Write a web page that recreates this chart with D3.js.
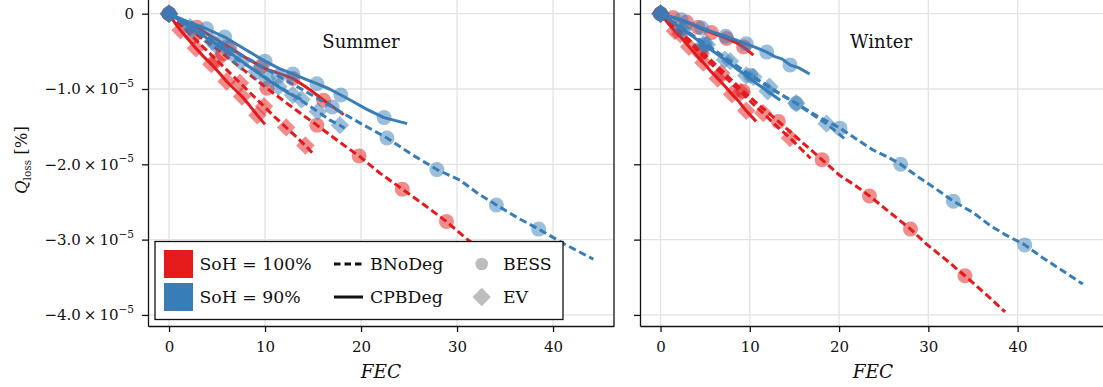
<!DOCTYPE html>
<html>
<head>
<meta charset="utf-8">
<script src="https://cdn.jsdelivr.net/npm/d3@7"></script>
<style>
  html, body { margin: 0; padding: 0; background: #fff; }
  svg { display: block; }
</style>
</head>
<body>
<svg id="chart" width="1103" height="387"></svg>
<script>
// Capacity loss vs full equivalent cycles, Summer / Winter panels.
// Q values are stored in units of 1e-5 %.

const RED = "#e41a1c";   // SoH = 100%
const BLUE = "#377eb8";  // SoH = 90%
const FONT = "DejaVu Serif";

const FEC_TICKS = [0, 10, 20, 30, 40];
const Q_TICKS = [0, -1, -2, -3, -4];
const Q_EXP = "−5";

// ---------------- Summer ----------------
const S_BESS_BNO_100 = [[0,0],[2.5,-0.24],[5.6,-0.53],[8,-0.77],[10.2,-0.99],[12.8,-1.24],[15.4,-1.48],[17.6,-1.69],[19.8,-1.89],[22,-2.12],[24.3,-2.33],[26.6,-2.54],[28.9,-2.76],[31,-2.99],[33.5,-3.22],[35.5,-3.41]];
const S_BESS_BNO_100_M = [[0,0],[5.6,-0.53],[10.2,-0.99],[15.4,-1.48],[19.8,-1.89],[24.3,-2.33],[28.9,-2.76],[33.5,-3.22]];
const S_EV_BNO_100 = [[0,0],[1.2,-0.15],[2.5,-0.31],[3.7,-0.46],[5,-0.62],[6.2,-0.77],[7.4,-0.92],[8.6,-1.07],[9.9,-1.23],[11,-1.37],[12.2,-1.51],[13.2,-1.63],[14.2,-1.75],[15,-1.86]];
const S_EV_BNO_100_M = [[0,0],[2.5,-0.31],[5,-0.62],[7.4,-0.92],[9.9,-1.23],[12.2,-1.51],[14.2,-1.75]];
const S_BESS_CPB_100 = [[0,0],[1.5,-0.1],[2.9,-0.18],[4.5,-0.31],[6.3,-0.45],[8.3,-0.61],[9.6,-0.7],[10.2,-0.74],[11.6,-0.8],[12.9,-0.86],[14,-0.95],[15,-1.04],[16.1,-1.15],[17.2,-1.25],[18.2,-1.34]];
const S_BESS_CPB_100_M = [[0,0],[2.9,-0.18],[6.3,-0.45],[9.6,-0.7],[12.9,-0.86],[16.1,-1.15]];
const S_EV_CPB_100 = [[0,0],[0.6,-0.12],[1.2,-0.22],[2,-0.34],[2.8,-0.46],[3.6,-0.57],[4.4,-0.67],[5.2,-0.78],[6,-0.9],[6.8,-1.0],[7.6,-1.1],[8.4,-1.22],[9.2,-1.35],[10,-1.47]];
const S_EV_CPB_100_M = [[0,0],[1.2,-0.22],[2.8,-0.46],[4.4,-0.67],[6,-0.9],[7.6,-1.1],[9.2,-1.35]];

const S_BESS_BNO_90 = [[0,0],[3,-0.22],[6,-0.44],[8.7,-0.63],[11.4,-0.83],[14.2,-1.03],[17,-1.24],[20,-1.46],[22.7,-1.65],[25.3,-1.87],[27.9,-2.07],[30.3,-2.21],[32.2,-2.39],[34.1,-2.54],[36.3,-2.71],[38.5,-2.86],[41.2,-3.06],[44.2,-3.26]];
const S_BESS_BNO_90_M = [[0,0],[6,-0.44],[11.4,-0.83],[17,-1.24],[22.7,-1.65],[27.9,-2.07],[34.1,-2.54],[38.5,-2.86]];
const S_EV_BNO_90 = [[0,0],[1.5,-0.14],[2.4,-0.21],[3.6,-0.31],[4.9,-0.42],[6.2,-0.53],[7.5,-0.64],[8.8,-0.74],[10.2,-0.86],[11.5,-0.97],[12.9,-1.08],[14.2,-1.19],[15.5,-1.3],[16.7,-1.41],[17.8,-1.48],[18.3,-1.52]];
const S_EV_BNO_90_M = [[0,0],[2.4,-0.21],[4.9,-0.42],[7.5,-0.64],[10.2,-0.86],[12.9,-1.08],[15.5,-1.3],[17.8,-1.48]];
const S_BESS_CPB_90 = [[0,0],[2,-0.11],[3.9,-0.2],[5.8,-0.31],[8,-0.48],[10,-0.63],[11.5,-0.73],[12.9,-0.8],[14.2,-0.87],[15.4,-0.93],[16.7,-1.0],[17.9,-1.08],[19.2,-1.17],[20.6,-1.27],[22.4,-1.38],[23.6,-1.42],[24.8,-1.46]];
const S_BESS_CPB_90_M = [[0,0],[3.9,-0.2],[5.8,-0.31],[10,-0.63],[12.9,-0.8],[15.4,-0.93],[17.9,-1.08],[22.4,-1.38]];
const S_EV_CPB_90 = [[0,0],[1.1,-0.09],[2.2,-0.18],[3.4,-0.28],[4.5,-0.37],[5.7,-0.47],[6.8,-0.56],[8,-0.67],[9.1,-0.77],[10.2,-0.87],[11.4,-0.97],[12.5,-1.06],[13.8,-1.14]];
const S_EV_CPB_90_M = [[0,0],[2.2,-0.18],[4.5,-0.37],[6.8,-0.56],[9.1,-0.77],[11.4,-0.97],[13.8,-1.14]];

// ---------------- Winter ----------------
const W_BESS_BNO_100 = [[0,0],[2.3,-0.25],[4.5,-0.49],[7,-0.77],[9.25,-1.03],[11.2,-1.23],[13.2,-1.43],[15.6,-1.68],[18.1,-1.94],[20.1,-2.15],[21.8,-2.28],[23.4,-2.42],[25.7,-2.64],[28,-2.86],[29.8,-3.06],[32,-3.27],[34.1,-3.48],[36.4,-3.72],[38.6,-3.96]];
const W_BESS_BNO_100_M = [[0,0],[4.5,-0.49],[9.25,-1.03],[13.2,-1.43],[18.1,-1.94],[23.4,-2.42],[28,-2.86],[34.1,-3.48]];
const W_EV_BNO_100 = [[0,0],[1.1,-0.14],[2.2,-0.27],[3.3,-0.39],[4.5,-0.53],[5.6,-0.66],[6.8,-0.79],[7.9,-0.92],[9,-1.04],[10.2,-1.18],[11.5,-1.32],[12.8,-1.47],[14.5,-1.65],[15.6,-1.78],[16.8,-1.92]];
const W_EV_BNO_100_M = [[0,0],[2.2,-0.27],[4.5,-0.53],[6.8,-0.79],[9,-1.04],[11.5,-1.32],[14.5,-1.65]];
const W_BESS_CPB_100 = [[0,0],[1.4,-0.05],[2.9,-0.11],[4.2,-0.18],[5.7,-0.25],[7.4,-0.33],[8.4,-0.38],[9.3,-0.44],[10.4,-0.55]];
const W_BESS_CPB_100_M = [[0,0],[1.4,-0.05],[2.9,-0.11],[4.2,-0.18],[5.7,-0.25],[7.4,-0.33],[9.3,-0.44]];
const W_EV_CPB_100 = [[0,0],[0.8,-0.12],[1.6,-0.23],[2.4,-0.33],[3.2,-0.44],[4,-0.55],[4.8,-0.65],[5.6,-0.76],[6.4,-0.86],[7.2,-0.96],[8,-1.07],[8.8,-1.17],[9.6,-1.29],[10.7,-1.43]];
const W_EV_CPB_100_M = [[0,0],[1.6,-0.23],[3.2,-0.44],[4.8,-0.65],[6.4,-0.86],[8,-1.07],[9.6,-1.29]];

const W_BESS_BNO_90 = [[0,0],[2.5,-0.21],[5,-0.41],[7.6,-0.62],[10.1,-0.82],[12.7,-1.02],[15.2,-1.19],[17.7,-1.37],[20.1,-1.52],[22,-1.67],[23.8,-1.81],[25.4,-1.9],[26.9,-2.0],[29,-2.18],[30.9,-2.33],[32.8,-2.49],[35,-2.64],[37,-2.82],[38.7,-2.94],[40.8,-3.07],[42.8,-3.24],[45,-3.41],[47.3,-3.59]];
const W_BESS_BNO_90_M = [[0,0],[5,-0.41],[10.1,-0.82],[15.2,-1.19],[20.1,-1.52],[26.9,-2.0],[32.8,-2.49],[40.8,-3.07]];
const W_EV_BNO_90 = [[0,0],[1.3,-0.1],[2.6,-0.2],[3.9,-0.31],[5.2,-0.41],[6.5,-0.52],[7.8,-0.63],[9.1,-0.74],[10.4,-0.84],[12.2,-0.97],[13.6,-1.08],[15.2,-1.19],[16.9,-1.33],[18.6,-1.46],[19.6,-1.56],[20.6,-1.66]];
const W_EV_BNO_90_M = [[0,0],[2.6,-0.2],[5.2,-0.41],[7.8,-0.63],[10.4,-0.84],[12.2,-0.97],[15.2,-1.19],[18.6,-1.46]];
const W_BESS_CPB_90 = [[0,0],[1.4,-0.05],[2.3,-0.08],[4,-0.16],[4.6,-0.19],[6,-0.25],[7.3,-0.3],[8.5,-0.35],[9.6,-0.4],[10.7,-0.45],[11.9,-0.51],[12.8,-0.57],[13.6,-0.6],[14.5,-0.68],[15.5,-0.72],[16.7,-0.8]];
const W_BESS_CPB_90_M = [[0,0],[2.3,-0.08],[4.6,-0.19],[7.3,-0.3],[9.6,-0.4],[11.9,-0.51],[14.5,-0.68]];
const W_EV_CPB_90 = [[0,0],[1.2,-0.1],[2.4,-0.2],[3.6,-0.3],[4.8,-0.41],[6,-0.51],[7.2,-0.61],[8.4,-0.72],[9.6,-0.82],[10.8,-0.93],[12,-1.03],[13.4,-1.15]];
const W_EV_CPB_90_M = [[0,0],[2.4,-0.2],[4.8,-0.41],[7.2,-0.61],[9.6,-0.82],[12,-1.03]];

// series tables (draw order: SoH 100 first, then SoH 90 on top)
const SUMMER = [
  { soh: 100, strat: "BNoDeg", app: "BESS", line: S_BESS_BNO_100, marks: S_BESS_BNO_100_M },
  { soh: 100, strat: "BNoDeg", app: "EV",   line: S_EV_BNO_100,   marks: S_EV_BNO_100_M },
  { soh: 100, strat: "CPBDeg", app: "BESS", line: S_BESS_CPB_100, marks: S_BESS_CPB_100_M },
  { soh: 100, strat: "CPBDeg", app: "EV",   line: S_EV_CPB_100,   marks: S_EV_CPB_100_M },
  { soh: 90,  strat: "BNoDeg", app: "BESS", line: S_BESS_BNO_90,  marks: S_BESS_BNO_90_M },
  { soh: 90,  strat: "BNoDeg", app: "EV",   line: S_EV_BNO_90,    marks: S_EV_BNO_90_M },
  { soh: 90,  strat: "CPBDeg", app: "BESS", line: S_BESS_CPB_90,  marks: S_BESS_CPB_90_M },
  { soh: 90,  strat: "CPBDeg", app: "EV",   line: S_EV_CPB_90,    marks: S_EV_CPB_90_M },
];
const WINTER = [
  { soh: 100, strat: "BNoDeg", app: "BESS", line: W_BESS_BNO_100, marks: W_BESS_BNO_100_M },
  { soh: 100, strat: "BNoDeg", app: "EV",   line: W_EV_BNO_100,   marks: W_EV_BNO_100_M },
  { soh: 100, strat: "CPBDeg", app: "BESS", line: W_BESS_CPB_100, marks: W_BESS_CPB_100_M },
  { soh: 100, strat: "CPBDeg", app: "EV",   line: W_EV_CPB_100,   marks: W_EV_CPB_100_M },
  { soh: 90,  strat: "BNoDeg", app: "BESS", line: W_BESS_BNO_90,  marks: W_BESS_BNO_90_M },
  { soh: 90,  strat: "BNoDeg", app: "EV",   line: W_EV_BNO_90,    marks: W_EV_BNO_90_M },
  { soh: 90,  strat: "CPBDeg", app: "BESS", line: W_BESS_CPB_90,  marks: W_BESS_CPB_90_M },
  { soh: 90,  strat: "CPBDeg", app: "EV",   line: W_EV_CPB_90,    marks: W_EV_CPB_90_M },
];

const LEGEND_SOH = [{ label: "SoH = 100%", color: RED }, { label: "SoH = 90%", color: BLUE }];
const LEGEND_STRAT = ["BNoDeg", "CPBDeg"];
const LEGEND_APP = ["BESS", "EV"];

// --- layout ---
const PLOT_TOP = -1;
const PLOT_BOTTOM = 326;
const Q_MIN = -4.147, Q_MAX = 0.195;
const PANELS = [
  { title: "Summer", titleAt: [20, -0.46], left: 148, right: 614, fecMin: -2.19, fecMax: 46.35, series: SUMMER, yLabels: true },
  { title: "Winter", titleAt: [24.7, -0.46], left: 640, right: 1106, fecMin: -2.3, fecMax: 49.9, series: WINTER, yLabels: false },
];

const LINE_W = 3;
const DASH = "7.5,3.8";
const GRID = "#e3e3e3";
const TICK_FS = 15;

const svg = d3.select("#chart").attr("font-family", FONT);
const defs = svg.append("defs");

const y = d3.scaleLinear().domain([Q_MIN, Q_MAX]).range([PLOT_BOTTOM, PLOT_TOP]);

const circle = d3.symbol(d3.symbolCircle, Math.PI * 7.5 * 7.5)();
const diamond = d3.symbol(d3.symbolSquare, 13 * 13)();

function qLabel(sel, v) {
  sel.text(null);
  if (v === 0) { sel.text("0"); return; }
  sel.append("tspan").text(`−${Math.abs(v).toFixed(1)}\u2009×\u200910`);
  sel.append("tspan").attr("font-size", 10.5).attr("dy", "-0.7em").text(Q_EXP);
}

function styleAxis(g) {
  g.attr("font-family", FONT).attr("font-size", TICK_FS);
  g.selectAll("path.domain").attr("stroke", "#111").attr("stroke-width", 1.3);
  g.selectAll(".tick line").attr("stroke", "#111").attr("stroke-width", 1.3);
  g.selectAll(".tick text").attr("fill", "#111");
}

PANELS.forEach((p, i) => {
  const x = d3.scaleLinear().domain([p.fecMin, p.fecMax]).range([p.left, p.right]);
  const g = svg.append("g").attr("class", `panel-${i}`);

  defs.append("clipPath").attr("id", `clip-${i}`)
    .append("rect")
    .attr("x", p.left).attr("y", PLOT_TOP)
    .attr("width", p.right - p.left).attr("height", PLOT_BOTTOM - PLOT_TOP);

  // grid
  g.append("g").selectAll("line").data(FEC_TICKS).join("line")
    .attr("x1", d => x(d)).attr("x2", d => x(d))
    .attr("y1", PLOT_TOP).attr("y2", PLOT_BOTTOM)
    .attr("stroke", GRID).attr("stroke-width", 1.3);
  g.append("g").selectAll("line").data(Q_TICKS).join("line")
    .attr("x1", p.left).attr("x2", p.right)
    .attr("y1", d => y(d)).attr("y2", d => y(d))
    .attr("stroke", GRID).attr("stroke-width", 1.3);

  // title
  g.append("text")
    .attr("x", x(p.titleAt[0])).attr("y", y(p.titleAt[1]))
    .attr("text-anchor", "middle").attr("font-size", 18).attr("fill", "#111")
    .text(p.title);

  // series
  const line = d3.line().x(d => x(d[0])).y(d => y(d[1]));
  const dataG = g.append("g").attr("clip-path", `url(#clip-${i})`);
  p.series.forEach(s => {
    const color = s.soh === 100 ? RED : BLUE;
    dataG.append("path")
      .datum(s.line)
      .attr("d", line)
      .attr("fill", "none")
      .attr("stroke", color)
      .attr("stroke-width", LINE_W)
      .attr("stroke-linejoin", "round")
      .attr("stroke-dasharray", s.strat === "BNoDeg" ? DASH : null);
    dataG.append("g").selectAll("path").data(s.marks).join("path")
      .attr("d", s.app === "BESS" ? circle : diamond)
      .attr("transform", d => `translate(${x(d[0])},${y(d[1])})` + (s.app === "EV" ? " rotate(45)" : ""))
      .attr("fill", color)
      .attr("fill-opacity", 0.5);
  });

  // axes
  g.append("g")
    .attr("transform", `translate(0,${PLOT_BOTTOM})`)
    .call(d3.axisBottom(x).tickValues(FEC_TICKS).tickSize(6).tickSizeOuter(0).tickPadding(9))
    .call(styleAxis);

  const yAxisG = g.append("g")
    .attr("transform", `translate(${p.left},0)`)
    .call(d3.axisLeft(y).tickValues(Q_TICKS).tickSize(6).tickSizeOuter(0).tickPadding(8)
      .tickFormat(p.yLabels ? d => d : () => ""))
    .call(styleAxis);
  if (p.yLabels) {
    yAxisG.selectAll(".tick text").each(function(d) { qLabel(d3.select(this), d); });
  }

  // right spine
  g.append("line")
    .attr("x1", p.right).attr("x2", p.right)
    .attr("y1", PLOT_TOP).attr("y2", PLOT_BOTTOM)
    .attr("stroke", "#111").attr("stroke-width", 1.3);

  // x label
  g.append("text")
    .attr("x", (p.left + p.right) / 2).attr("y", 378)
    .attr("text-anchor", "middle").attr("font-size", 18.5).attr("font-style", "italic")
    .attr("fill", "#111")
    .text("FEC");
});

// y label
const yl = svg.append("text")
  .attr("transform", "translate(27,160) rotate(-90)")
  .attr("text-anchor", "middle").attr("font-size", 16.5).attr("fill", "#111");
yl.append("tspan").attr("font-style", "italic").text("Q");
yl.append("tspan").attr("font-size", 10.5).attr("dy", 4).text("loss");
yl.append("tspan").attr("dy", -4).text(" [%]");

// legend
const lg = svg.append("g").attr("transform", "translate(155,241.5)")
  .attr("font-size", 17.3).attr("fill", "#111");
lg.append("rect")
  .attr("width", 408).attr("height", 78)
  .attr("fill", "#fff").attr("stroke", "#111").attr("stroke-width", 1.3);

const rowY = [22.5, 55.5];

lg.selectAll("rect.patch").data(LEGEND_SOH).join("rect")
  .attr("class", "patch")
  .attr("x", 9).attr("y", (d, i) => rowY[i] - 14)
  .attr("width", 29).attr("height", 28)
  .attr("fill", d => d.color);
lg.selectAll("text.soh").data(LEGEND_SOH).join("text")
  .attr("class", "soh")
  .attr("x", 44.5).attr("y", (d, i) => rowY[i] + 6)
  .text(d => d.label);

lg.selectAll("line.strat").data(LEGEND_STRAT).join("line")
  .attr("class", "strat")
  .attr("x1", 179).attr("x2", 208)
  .attr("y1", (d, i) => rowY[i]).attr("y2", (d, i) => rowY[i])
  .attr("stroke", "#111").attr("stroke-width", LINE_W)
  .attr("stroke-dasharray", d => d === "BNoDeg" ? "6.5,4" : null);
lg.selectAll("text.strat").data(LEGEND_STRAT).join("text")
  .attr("class", "strat")
  .attr("x", 215).attr("y", (d, i) => rowY[i] + 6)
  .text(d => d);

lg.selectAll("path.app").data(LEGEND_APP).join("path")
  .attr("class", "app")
  .attr("d", d => d === "BESS" ? d3.symbol(d3.symbolCircle, Math.PI * 6.3 * 6.3)() : d3.symbol(d3.symbolSquare, 13 * 13)())
  .attr("transform", (d, i) => `translate(326.7,${rowY[i]})` + (d === "EV" ? " rotate(45)" : ""))
  .attr("fill", "#bdbdbd");
lg.selectAll("text.app").data(LEGEND_APP).join("text")
  .attr("class", "app")
  .attr("x", 348).attr("y", (d, i) => rowY[i] + 6)
  .text(d => d);
</script>
</body>
</html>
